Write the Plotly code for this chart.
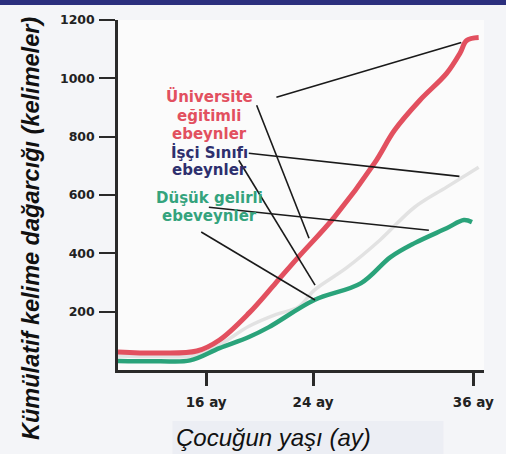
import plotly.graph_objects as go

# Data (age in months, cumulative vocabulary in words)
uni_age = [9.4, 12.5, 15.3, 17.0, 19.2, 21.2, 22.9, 25.6, 28.6, 30.1, 32.0, 34.0, 35.0, 35.5, 36.4]
uni_words = [62, 58, 65, 103, 195, 298, 387, 524, 709, 822, 925, 1017, 1086, 1130, 1140]

work_age = [9.4, 12.5, 15.3, 17.0, 19.2, 21.2, 22.9, 24.1, 26.5, 29.0, 31.6, 34.0, 36.4]
work_words = [48, 46, 50, 86, 150, 190, 216, 274, 350, 445, 558, 627, 695]

low_age = [9.4, 12.5, 14.8, 17.0, 19.2, 20.7, 24.1, 27.6, 29.8, 31.6, 34.0, 35.3, 35.9]
low_words = [31, 30, 33, 75, 113, 147, 240, 298, 387, 435, 486, 514, 507]

x_ticks = [16, 24, 36]
x_tick_labels = ["16 ay", "24 ay", "36 ay"]
y_ticks = [200, 400, 600, 800, 1000, 1200]

# plot area in pixels
L, R, T, B = 118, 488, 20, 370
W, H = 506, 454


def px(x):
    return (x - L) / (R - L)


def py(y):
    return (B - y) / (B - T)


fig = go.Figure()
fig.add_trace(go.Scatter(x=work_age, y=work_words, mode="lines",
                         line=dict(color="#e2e2e2", width=3.5, shape="spline"), hoverinfo="skip"))
fig.add_trace(go.Scatter(x=low_age, y=low_words, mode="lines",
                         line=dict(color="#2aa37a", width=4.5, shape="spline"), hoverinfo="skip"))
fig.add_trace(go.Scatter(x=uni_age, y=uni_words, mode="lines",
                         line=dict(color="#e2505f", width=5, shape="spline"), hoverinfo="skip"))

# pointer lines (annotation leaders)
leaders = [
    ((21.26, 935), (35.1, 1123)),
    ((19.78, 908), (23.7, 452)),
    ((19.19, 743), (34.96, 664)),
    ((18.44, 719), (24.15, 291)),
    ((16.2, 558), (32.67, 479)),
    ((15.63, 473), (24.15, 240)),
]
shapes = []
for (x0, y0), (x1, y1) in leaders:
    shapes.append(dict(type="line", xref="x", yref="y", x0=x0, y0=y0, x1=x1, y1=y1,
                       line=dict(color="#1a1a1a", width=1.6), layer="above"))
# dark band at top
shapes.append(dict(type="rect", xref="paper", yref="paper", x0=px(-10), x1=px(W + 10),
                   y0=py(5), y1=py(-5), fillcolor="#2b2f7e",
                   line=dict(width=0), layer="below"))
# light box behind x title
shapes.append(dict(type="rect", xref="paper", yref="paper", x0=px(173), x1=px(447),
                   y0=py(460), y1=py(421), fillcolor="#eceef4",
                   line=dict(width=0), layer="below"))

labels = [
    ("Üniversite", 97, "#e2505f"),
    ("eğitimli", 116, "#e2505f"),
    ("ebeynler", 134, "#e2505f"),
    ("İşçi Sınıfı", 152, "#2e2f6e"),
    ("ebeynler", 170, "#2e2f6e"),
    ("Düşük gelirli", 198, "#34a37d"),
    ("ebeveynler", 216, "#34a37d"),
]
annotations = []
for text, ypix, col in labels:
    annotations.append(dict(text=text, xref="paper", yref="paper",
                            x=px(210), y=py(ypix),
                            xanchor="center", yanchor="middle", showarrow=False,
                            font=dict(family="DejaVu Sans", size=15, color=col, weight="bold")))
annotations.append(dict(text="Çocuğun yaşı (ay)", xref="paper", yref="paper",
                        x=px(275), y=py(437), xanchor="center", yanchor="middle", showarrow=False,
                        font=dict(family="Liberation Sans", size=24, color="#111111", style="italic")))
annotations.append(dict(text="Kümülatif kelime dağarcığı (kelimeler)", xref="paper", yref="paper",
                        x=px(30), y=py(228), xanchor="center", yanchor="middle", showarrow=False,
                        textangle=-90,
                        font=dict(family="Liberation Sans", size=23.5, color="#111111",
                                  style="italic", weight="bold")))

fig.update_layout(
    width=W, height=H,
    margin=dict(l=L, r=W - R, t=T, b=H - B, pad=0),
    paper_bgcolor="#f4f5f8",
    plot_bgcolor="#fbfbfb",
    showlegend=False,
    shapes=shapes,
    annotations=annotations,
    xaxis=dict(range=[9.4, 36.8], tickvals=x_ticks, ticktext=x_tick_labels,
               showgrid=False, zeroline=False, showline=True, linecolor="#2a2a2a", linewidth=2.5,
               ticks="outside", ticklen=13, tickwidth=2.5, tickcolor="#2a2a2a",
               ticklabelstandoff=5,
               tickfont=dict(family="DejaVu Sans", size=13.5, color="#222222", weight="bold")),
    yaxis=dict(range=[0, 1200], tickvals=y_ticks,
               showgrid=False, zeroline=False, showline=True, linecolor="#2a2a2a", linewidth=2.5,
               ticks="outside", ticklen=16, tickwidth=2, tickcolor="#2a2a2a",
               ticklabelstandoff=2,
               tickfont=dict(family="DejaVu Sans", size=12.5, color="#222222", weight="bold")),
)

fig.write_html("out.html", config={"displayModeBar": False},
               post_script="document.body.style.margin='0';document.body.style.background='#f4f5f8';")
